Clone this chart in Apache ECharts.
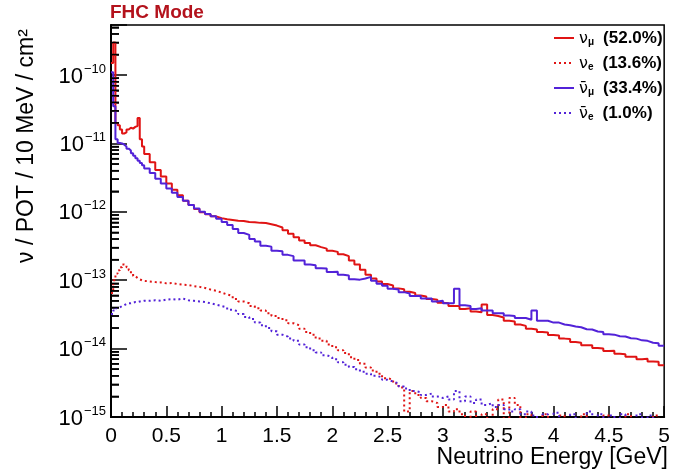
<!DOCTYPE html>
<html style="height: 100%">
  <head>
     <meta charset="utf-8">
  </head>
  <body style="height: 100%; margin: 0; position: relative">
     <div id="container" style="width: 673px; height: 471px"></div>
     <script type="text/javascript" src="https://cdn.jsdelivr.net/npm/echarts@6/dist/echarts.min.js"></script>
     <script type="text/javascript">
// problems are written on the page only if something goes wrong
var problems = [];
function showProblems() {
  var d = document.getElementById('problems');
  if (!d) {
    d = document.createElement('div');
    d.id = 'problems';
    d.style.cssText = 'position:absolute;left:240px;top:30px;width:300px;font:11px sans-serif;color:#900';
    document.body.appendChild(d);
  }
  d.textContent = problems.join(' | ');
}
window.addEventListener('error', function (e) { problems.push('onerror: ' + e.message); showProblems(); });

// bin low edges in GeV: 20 MeV bins up to 0.3, then 50 MeV bins up to 5
var binLow = [];
for (var i = 0; i < 15; i++) binLow.push(+(i * 0.02).toFixed(2));
for (var j = 0; j < 94; j++) binLow.push(+(0.3 + j * 0.05).toFixed(2));
var xMax = 5;

// nu_mu (solid red)
var numu = [
  1.5e-10, 3.0e-10, 2.0e-11, 1.85e-11, 1.6e-11, 1.4e-11, 1.45e-11, 1.6e-11, 1.7e-11, 1.65e-11,
  1.75e-11, 1.8e-11, 2.35e-11, 1.15e-11, 9.0e-12,
  7.0e-12, 5.3e-12, 4.1e-12, 3.3e-12, 2.6e-12, 2.1e-12, 1.75e-12, 1.45e-12, 1.26e-12, 1.1e-12,
  9.9e-13, 9.2e-13, 8.6e-13, 8.1e-13, 7.8e-13, 7.6e-13, 7.4e-13, 7.35e-13, 7.1e-13, 7.05e-13,
  6.9e-13, 6.85e-13, 6.6e-13, 6.3e-13, 5.9e-13, 5.4e-13, 4.8e-13, 4.25e-13, 3.8e-13, 3.5e-13,
  3.25e-13, 3.05e-13, 2.9e-13, 2.7e-13, 2.6e-13, 2.4e-13, 2.25e-13, 1.95e-13, 1.7e-13, 1.42e-13,
  1.2e-13, 1.06e-13, 9.6e-14, 8.8e-14, 8.4e-14, 7.6e-14, 7.4e-14, 6.8e-14, 6.5e-14, 6.0e-14,
  5.8e-14, 5.3e-14, 5.2e-14, 4.7e-14, 4.6e-14, 4.2e-14, 4.2e-14, 3.8e-14, 3.9e-14, 3.5e-14,
  3.4e-14, 4.4e-14, 3.1e-14, 3.0e-14, 2.85e-14, 2.55e-14, 2.5e-14, 2.25e-14, 2.15e-14, 1.95e-14,
  1.9e-14, 1.75e-14, 1.72e-14, 1.58e-14, 1.55e-14, 1.4e-14, 1.38e-14, 1.25e-14, 1.22e-14, 1.12e-14,
  1.12e-14, 1.02e-14, 1.0e-14, 9.2e-15, 9.3e-15, 8.4e-15, 8.3e-15, 7.6e-15, 7.6e-15, 7.0e-15,
  7.1e-15, 6.5e-15, 6.4e-15, 5.7e-15
];

// nu_e (dotted red)
var nue = [
  6.5e-14, 1.0e-13, 1.25e-13, 1.4e-13, 1.55e-13, 1.7e-13, 1.68e-13, 1.55e-13, 1.4e-13, 1.25e-13,
  1.15e-13, 1.08e-13, 1.03e-13, 1.0e-13, 9.8e-14,
  9.6e-14, 9.4e-14, 9.3e-14, 9.0e-14, 9.1e-14, 8.8e-14, 8.6e-14, 8.5e-14, 8.2e-14, 8.0e-14,
  7.7e-14, 7.3e-14, 7.0e-14, 6.6e-14, 6.2e-14, 5.9e-14, 5.3e-14, 4.9e-14, 4.6e-14, 4.2e-14,
  3.9e-14, 3.6e-14, 3.3e-14, 3.0e-14, 2.8e-14, 2.6e-14, 2.35e-14, 2.2e-14, 1.95e-14, 1.75e-14,
  1.6e-14, 1.4e-14, 1.3e-14, 1.15e-14, 1.05e-14, 9.5e-15, 8.6e-15, 7.5e-15, 6.8e-15, 6.0e-15,
  5.3e-15, 4.8e-15, 4.3e-15, 3.7e-15, 3.5e-15, 3.1e-15, 2.7e-15, 1.2e-15, 2.4e-15, 2.1e-15,
  1.9e-15, 1.7e-15, 1.6e-15, 1.4e-15, 1.5e-15, 1.2e-15, 1.3e-15, 1.1e-15, 8e-16, 1.2e-15,
  9e-16, 1.1e-15, 8e-16, 1.3e-15, 1.8e-15, 7e-16, 1.9e-15, 1.5e-15, 6e-16, 1.1e-15,
  5e-16, 6e-16, 1.1e-15, 5e-16, 5e-16, 1.05e-15, 5e-16, 6e-16, 5e-16, 1.1e-15,
  5e-16, 5e-16, 6e-16, 1.05e-15, 5e-16, 5e-16, 5e-16, 1.1e-15, 5e-16, 5e-16,
  6e-16, 5e-16, 1.05e-15, 5e-16
];

// anti nu_mu (solid blue)
var numubar = [
  1.1e-10, 3.5e-11, 1.15e-11, 1.02e-11, 1.0e-11, 9.6e-12, 9.0e-12, 8.4e-12, 7.9e-12, 7.2e-12,
  6.6e-12, 6.1e-12, 5.6e-12, 5.2e-12, 4.8e-12,
  4.3e-12, 3.7e-12, 3.05e-12, 2.6e-12, 2.2e-12, 1.9e-12, 1.65e-12, 1.45e-12, 1.26e-12, 1.12e-12,
  1.0e-12, 9.3e-13, 8.6e-13, 7.9e-13, 7.1e-13, 6.4e-13, 5.6e-13, 4.9e-13, 4.6e-13, 4.0e-13,
  3.7e-13, 3.2e-13, 3.1e-13, 2.7e-13, 2.65e-13, 2.35e-13, 2.25e-13, 1.95e-13, 1.95e-13, 1.7e-13,
  1.65e-13, 1.5e-13, 1.48e-13, 1.32e-13, 1.33e-13, 1.2e-13, 1.17e-13, 1.03e-13, 1.02e-13, 1.06e-13,
  1.12e-13, 9.8e-14, 8.9e-14, 8.3e-14, 7.5e-14, 7.3e-14, 6.7e-14, 6.4e-14, 5.9e-14, 5.9e-14,
  5.4e-14, 5.4e-14, 4.9e-14, 5.0e-14, 4.6e-14, 4.6e-14, 7.5e-14, 4.3e-14, 4.2e-14, 3.8e-14,
  3.9e-14, 3.6e-14, 3.6e-14, 3.3e-14, 3.3e-14, 3.05e-14, 3.0e-14, 2.8e-14, 2.8e-14, 2.65e-14,
  3.6e-14, 2.55e-14, 2.55e-14, 2.4e-14, 2.4e-14, 2.25e-14, 2.2e-14, 2.1e-14, 2.05e-14, 1.92e-14,
  1.9e-14, 1.78e-14, 1.75e-14, 1.62e-14, 1.6e-14, 1.52e-14, 1.5e-14, 1.42e-14, 1.4e-14, 1.32e-14,
  1.3e-14, 1.22e-14, 1.2e-14, 1.1e-14
];

// anti nu_e (dotted blue)
var nuebar = [
  3.2e-14, 3.6e-14, 3.9e-14, 4.0e-14, 4.2e-14, 4.3e-14, 4.5e-14, 4.6e-14, 4.6e-14, 4.7e-14,
  4.8e-14, 4.8e-14, 4.9e-14, 4.9e-14, 5.0e-14,
  5.0e-14, 5.1e-14, 5.0e-14, 5.2e-14, 5.3e-14, 5.2e-14, 5.4e-14, 5.1e-14, 5.0e-14, 4.9e-14,
  4.8e-14, 4.6e-14, 4.4e-14, 4.2e-14, 4.0e-14, 3.7e-14, 3.5e-14, 3.2e-14, 2.9e-14, 2.7e-14,
  2.4e-14, 2.2e-14, 2.0e-14, 1.8e-14, 1.6e-14, 1.5e-14, 1.4e-14, 1.3e-14, 1.15e-14, 1.05e-14,
  9.5e-15, 8.8e-15, 8.0e-15, 7.5e-15, 7.0e-15, 6.3e-15, 5.8e-15, 5.4e-15, 5.0e-15, 4.6e-15,
  4.3e-15, 4.0e-15, 3.8e-15, 3.5e-15, 3.3e-15, 3.1e-15, 2.8e-15, 2.6e-15, 2.4e-15, 2.3e-15,
  2.1e-15, 2.2e-15, 2.0e-15, 1.9e-15, 2.0e-15, 1.8e-15, 2.4e-15, 1.7e-15, 2.0e-15, 1.6e-15,
  1.8e-15, 1.5e-15, 1.6e-15, 1.4e-15, 1.5e-15, 1.3e-15, 1.2e-15, 1.3e-15, 1.1e-15, 1.2e-15,
  1.05e-15, 9e-16, 1.1e-15, 8e-16, 1.15e-15, 7e-16, 9e-16, 1.1e-15, 7e-16, 8e-16,
  1.2e-15, 6e-16, 1.1e-15, 7e-16, 1.05e-15, 6e-16, 1.1e-15, 7e-16, 6e-16, 1.1e-15,
  6e-16, 1.05e-15, 7e-16, 6e-16
];

var seriesNames = ['numu', 'nue', 'numubar', 'nuebar'];
var legendLabels = {
  numu: '{g|\u03bd}{s|\u03bc}{b|(52.0%)}',
  nue: '{g|\u03bd}{s|e}{b|(13.6%)}',
  numubar: '{g|\u03bd\u0304}{s|\u03bc}{b|(33.4%)}',
  nuebar: '{g|\u03bd\u0304}{s|e}{b|(1.0%)}'
};

var yMin = 1e-15, yMax = 5.4e-10;
var red = '#e01414', blue = '#5222d8';
var font = "'Liberation Sans', Arial, sans-serif";

// 2..9 x 10^n values for the log axis minor ticks
var yMinor = [];
for (var n = -15; n <= -10; n++) {
  for (var k = 2; k <= 9; k++) {
    var mv = k * Math.pow(10, n);
    if (mv < yMax) yMinor.push(mv);
  }
}

function steps(vals) {
  var out = vals.map(function (v, i) { return [binLow[i], v]; });
  out.push([xMax, vals[vals.length - 1]]);
  return out;
}

function histo(name, vals, color, dotted) {
  return {
    name: name,
    type: 'line',
    step: 'end',
    symbol: 'none',
    data: steps(vals),
    itemStyle: { color: color },
    lineStyle: { color: color, width: 2, type: dotted ? [2, 3] : 'solid' }
  };
}

var dom = document.getElementById("container");
var myChart = echarts.init(dom);

var textGraphics = [
  {
    type: 'text',
    x: 27,
    y: 146,
    rotation: Math.PI / 2,
    style: { text: '\u03bd / POT / 10 MeV / cm\u00b2', fontFamily: font, fontSize: 23, fill: '#000', align: 'center', verticalAlign: 'middle' }
  },
  {
    type: 'text',
    x: 668,
    y: 458,
    style: { text: 'Neutrino Energy [GeV]', fontFamily: font, fontSize: 23, fill: '#000', align: 'right', verticalAlign: 'middle' }
  }
];

var option = {
  animation: false,
  title: {
    text: 'FHC Mode',
    left: 110,
    top: 3,
    padding: 0,
    textStyle: { color: '#b3121c', fontSize: 19, fontWeight: 'bold', fontFamily: font }
  },
  legend: {
    orient: 'vertical',
    left: 553,
    top: 30,
    padding: 0,
    itemWidth: 20,
    itemHeight: 14,
    itemGap: 8,
    data: seriesNames,
    itemStyle: { opacity: 0 },
    formatter: function (name) { return legendLabels[name]; },
    textStyle: {
      fontFamily: font,
      fontSize: 17,
      fontWeight: 'bold',
      color: '#000',
      rich: {
        g: { fontFamily: "'DejaVu Sans', sans-serif", fontSize: 16, fontWeight: 'normal', color: '#000', verticalAlign: 'bottom' },
        s: { fontFamily: font, fontSize: 10, fontWeight: 'bold', color: '#000', verticalAlign: 'bottom', padding: [8, 0, 0, 0] },
        b: { fontFamily: font, fontSize: 17, fontWeight: 'bold', color: '#000', verticalAlign: 'bottom', padding: [0, 0, 0, 9] }
      }
    }
  },
  grid: {
    left: 111,
    right: 4,
    top: 25,
    bottom: 54,
    show: true,
    borderColor: '#000',
    borderWidth: 1.5
  },
  xAxis: {
    type: 'value',
    min: 0,
    max: xMax,
    interval: 0.5,
    axisLine: { show: true, onZero: false, lineStyle: { color: '#000', width: 2 } },
    axisTick: { inside: true, length: 11, lineStyle: { color: '#000', width: 1.5 } },
    minorTick: { show: true, splitNumber: 5, length: 5, lineStyle: { color: '#000', width: 1.5 } },
    axisLabel: { fontFamily: font, fontSize: 21, color: '#000', margin: 9 },
    splitLine: { show: false }
  },
  yAxis: {
    type: 'log',
    min: yMin,
    max: yMax,
    axisLine: { show: true, onZero: false, lineStyle: { color: '#000', width: 2 } },
    axisTick: { show: true, inside: true, length: 16, lineStyle: { color: '#000', width: 1.5 } },
    minorTick: { show: true, splitNumber: 9, length: 8, lineStyle: { color: '#000', width: 1.5 } },
    axisLabel: {
      margin: 5,
      formatter: function (v) {
        var p = Math.log10(v);
        if (Math.abs(p - Math.round(p)) > 1e-6) return '';
        return '{b|10}{e|\u2212' + (-Math.round(p)) + '}';
      },
      rich: {
        b: { fontFamily: font, fontSize: 22, color: '#000', verticalAlign: 'bottom' },
        e: { fontFamily: font, fontSize: 13, color: '#000', verticalAlign: 'bottom', padding: [0, 0, 12, 1] }
      }
    },
    splitLine: { show: false }
  },
  graphic: textGraphics,
  series: [
    histo('numu', numu, red, false),
    histo('nue', nue, red, true),
    histo('numubar', numubar, blue, false),
    histo('nuebar', nuebar, blue, true)
  ]
};

try {
  myChart.setOption(option, true);
} catch (e) {
  problems.push('setOption: ' + e.message);
  showProblems();
}

// minor ticks as plain marks, placed through the chart's own scales
var tickGraphics = [];
try {
  var x0 = myChart.convertToPixel({ xAxisIndex: 0 }, 0);
  yMinor.forEach(function (v) {
    var py = myChart.convertToPixel({ yAxisIndex: 0 }, v);
    if (isFinite(x0) && isFinite(py)) {
      tickGraphics.push({
        type: 'line',
        z: 100,
        silent: true,
        shape: { x1: x0, y1: py, x2: x0 + 8, y2: py },
        style: { stroke: '#000', lineWidth: 1.5 }
      });
    }
  });
  if (!tickGraphics.length) {
    problems.push('no ticks: n=' + yMinor.length + ' x0=' + x0 + ' y=' + myChart.convertToPixel({ yAxisIndex: 0 }, 1e-12));
    showProblems();
  }
  myChart.setOption({ graphic: textGraphics.concat(tickGraphics) });
} catch (e) {
  problems.push('ticks: ' + e.message);
  showProblems();
}
       </script>
   </body>
</html>
